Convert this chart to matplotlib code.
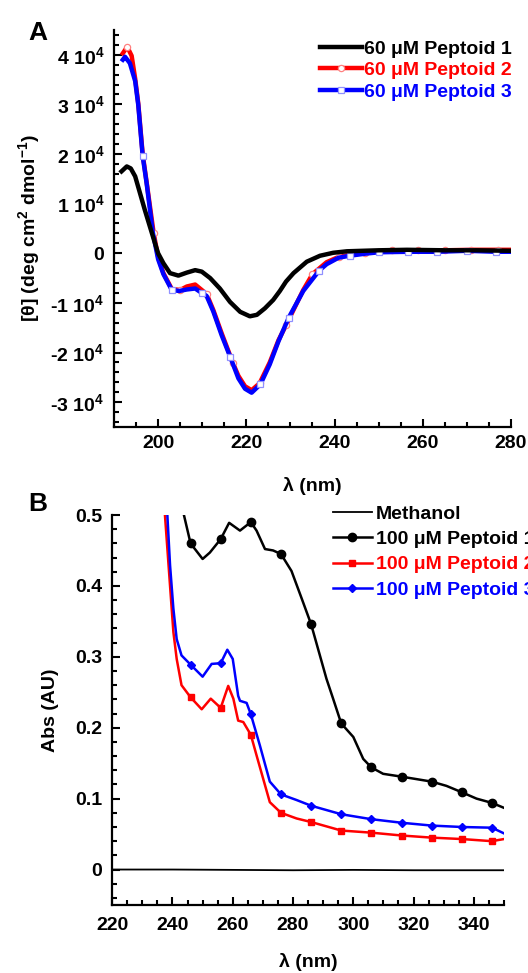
import numpy as np
import matplotlib
matplotlib.use("Agg")
import matplotlib.pyplot as plt
from matplotlib.ticker import FixedLocator, MultipleLocator

plt.rcParams['font.family'] = ['Liberation Sans', 'DejaVu Sans']
plt.rcParams['font.weight'] = 'bold'
plt.rcParams['axes.labelweight'] = 'bold'
plt.rcParams['mathtext.default'] = 'regular'

# ---------------- panel A : CD spectra (values in 1e4 deg cm2 dmol-1) ----------------
cd_labels = ['60 \u03bcM Peptoid 1', '60 \u03bcM Peptoid 2', '60 \u03bcM Peptoid 3']

cd1_wl = [191.7, 192.9, 193.8, 194.8, 195.9, 197.0, 198.2, 199.3, 200.0, 201.2, 202.7, 204.6,
          206.5, 208.4, 209.9, 211.8, 214.0, 216.3, 218.6, 220.8, 222.4, 224.2, 226.1, 227.6,
          229.0, 230.7, 233.7, 236.7, 239.7, 242.8, 250.0, 256.4, 265.0, 272.0, 280.0]
cd1_val = [1.65, 1.75, 1.71, 1.55, 1.21, 0.87, 0.52, 0.20, 0.00, -0.20, -0.40, -0.45,
           -0.39, -0.34, -0.37, -0.50, -0.71, -0.98, -1.18, -1.27, -1.24, -1.11, -0.94, -0.76,
           -0.57, -0.40, -0.17, -0.05, 0.01, 0.04, 0.06, 0.07, 0.06, 0.06, 0.05]

cd2_wl = [192.0, 193.0, 194.0, 194.8, 195.5, 196.5, 197.4, 199.0, 200.0, 201.2, 203.1, 205.0,
          206.5, 208.4, 211.0, 212.5, 214.4, 217.0, 218.2, 219.7, 221.2, 223.0, 225.3, 227.3,
          229.0, 232.9, 235.0, 238.2, 241.0, 244.0, 247.0, 250.0, 253.0, 259.0, 265.0, 271.0,
          277.0, 280.0]
cd2_val = [4.03, 4.16, 3.98, 3.52, 3.02, 2.00, 1.43, 0.40, -0.07, -0.40, -0.72, -0.74,
           -0.67, -0.63, -0.82, -1.14, -1.61, -2.22, -2.47, -2.68, -2.76, -2.62, -2.20, -1.75,
           -1.45, -0.74, -0.42, -0.18, -0.07, -0.02, 0.00, 0.04, 0.06, 0.06, 0.06, 0.07,
           0.07, 0.07]
cd2_marks = [193.0, 199.0, 205.0, 211.0, 217.0, 223.0, 229.0, 235.0, 241.0, 247.0, 253.0,
             259.0, 265.0, 271.0, 277.0]

cd3_wl = [192.0, 192.5, 193.6, 194.8, 195.5, 196.5, 197.4, 198.8, 200.0, 201.2, 203.1, 204.8,
          206.5, 208.4, 209.9, 211.0, 212.5, 214.4, 216.4, 218.2, 219.7, 221.2, 223.2, 225.3,
          227.3, 229.6, 232.9, 236.5, 238.2, 240.9, 243.4, 246.8, 250.0, 256.7, 263.3, 270.0,
          276.6, 280.0]
cd3_val = [3.90, 3.96, 3.83, 3.47, 2.99, 1.96, 1.41, 0.42, -0.12, -0.42, -0.74, -0.76,
           -0.73, -0.71, -0.80, -0.86, -1.17, -1.65, -2.10, -2.52, -2.73, -2.81, -2.64, -2.24,
           -1.77, -1.30, -0.76, -0.35, -0.22, -0.09, -0.05, -0.01, 0.02, 0.03, 0.03, 0.05,
           0.03, 0.03]
cd3_marks = [196.5, 203.1, 209.9, 216.4, 223.2, 229.6, 236.5, 243.4, 250.0, 256.7, 263.3,
             270.0, 276.6]

cd_yticks = [-3, -2, -1, 0, 1, 2, 3, 4]
cd_xticks = [200, 220, 240, 260, 280]

# ---------------- panel B : UV absorbance ----------------
uv_labels = ['Methanol', '100 \u03bcM Peptoid 1', '100 \u03bcM Peptoid 2', '100 \u03bcM Peptoid 3']

meoh_wl = [220, 240, 260, 280, 300, 320, 340, 350]
meoh_abs = [0.0, 0.0, -0.0005, -0.001, -0.0005, -0.001, -0.001, -0.001]

uv1_wl = [243.8, 246.0, 250.0, 252.4, 256.0, 258.8, 262.4, 266.0, 267.9, 270.7, 273.4, 276.0,
          279.5, 282.9, 286.0, 291.1, 293.3, 296.0, 300.0, 303.3, 306.0, 309.9, 316.0, 326.0,
          330.9, 336.0, 340.9, 346.0, 350.0]
uv1_abs = [0.500, 0.460, 0.438, 0.447, 0.466, 0.489, 0.478, 0.490, 0.478, 0.452, 0.450, 0.445,
           0.421, 0.382, 0.346, 0.269, 0.241, 0.206, 0.187, 0.156, 0.144, 0.135, 0.131, 0.124,
           0.118, 0.109, 0.100, 0.094, 0.087]

uv2_wl = [237.5, 239.5, 240.3, 241.4, 243.0, 246.0, 249.7, 252.7, 256.0, 258.5, 260.2, 261.8,
          263.5, 266.0, 267.9, 270.1, 272.3, 276.0, 281.2, 286.0, 296.0, 306.0, 316.0, 326.0,
          336.0, 346.0, 350.0]
uv2_abs = [0.500, 0.382, 0.335, 0.297, 0.260, 0.243, 0.226, 0.241, 0.228, 0.259, 0.241, 0.210,
           0.208, 0.190, 0.161, 0.128, 0.095, 0.080, 0.072, 0.067, 0.055, 0.052, 0.048, 0.045,
           0.043, 0.040, 0.043]

uv3_wl = [238.3, 239.2, 240.3, 241.4, 243.0, 246.0, 250.0, 253.0, 256.0, 258.2, 260.0, 261.8,
          262.4, 264.6, 266.0, 269.0, 272.3, 276.0, 281.2, 286.0, 296.0, 306.0, 316.0, 326.0,
          336.0, 346.0, 350.0]
uv3_abs = [0.500, 0.429, 0.368, 0.325, 0.302, 0.289, 0.272, 0.290, 0.291, 0.310, 0.297, 0.245,
           0.238, 0.235, 0.219, 0.175, 0.124, 0.106, 0.098, 0.090, 0.078, 0.071, 0.066, 0.062,
           0.060, 0.059, 0.051]

uv_marks = [246.0, 256.0, 266.0, 276.0, 286.0, 296.0, 306.0, 316.0, 326.0, 336.0, 346.0]
uv_yticks = [0, 0.1, 0.2, 0.3, 0.4, 0.5]
uv_xticks = [220, 240, 260, 280, 300, 320, 340]


def mark_idx(wl, marks):
    return [i for i, w in enumerate(wl) if w in marks]


def style_axes(ax, pad_x):
    for side in ['top', 'right']:
        ax.spines[side].set_visible(False)
    for side in ['left', 'bottom']:
        ax.spines[side].set_linewidth(1.6)
    ax.tick_params(which='both', direction='in', width=1.5, labelsize=14)
    ax.tick_params(which='major', length=6)
    ax.tick_params(which='minor', length=3.5)
    ax.tick_params(axis='x', pad=pad_x)
    ax.tick_params(axis='y', pad=7)


fig = plt.figure(figsize=(5.28, 9.73), dpi=100)

# ---- A ----
axA = fig.add_axes([0.2159, 0.5612, 0.7519, 0.408])
lw = 3.2
axA.plot(cd1_wl, np.array(cd1_val) * 1e4, color='black', lw=lw, zorder=4, label=cd_labels[0])
axA.plot(cd2_wl, np.array(cd2_val) * 1e4, color='#ff0000', lw=lw, zorder=2,
         marker='o', ms=4.5, mfc='white', mec='#ff8080', mew=0.9,
         markevery=mark_idx(cd2_wl, cd2_marks), label=cd_labels[1])
axA.plot(cd3_wl, np.array(cd3_val) * 1e4, color='#0000ff', lw=lw, zorder=3,
         marker='s', ms=4.5, mfc='white', mec='#9090ff', mew=0.9,
         markevery=mark_idx(cd3_wl, cd3_marks), label=cd_labels[2])
axA.set_xlim(190, 280)
axA.set_ylim(-3.5e4, 4.5e4)
axA.xaxis.set_major_locator(FixedLocator(cd_xticks))
axA.xaxis.set_minor_locator(MultipleLocator(5))
axA.yaxis.set_major_locator(FixedLocator([k * 1e4 for k in cd_yticks]))
axA.yaxis.set_minor_locator(MultipleLocator(2000))
axA.set_yticklabels(['0' if k == 0 else f'{k} 10$^4$' for k in cd_yticks])
style_axes(axA, 6)
axA.set_xlabel('\u03bb (nm)', fontsize=14, fontweight='bold', labelpad=18)
axA.set_ylabel('[\u03b8] (deg cm$^2$ dmol$^{-1}$)', fontsize=14, fontweight='bold', labelpad=6)
legA = axA.legend(loc='upper left', bbox_to_anchor=(320 / 528, 1 - 40 / 973),
                  bbox_transform=fig.transFigure, frameon=False, fontsize=14,
                  handlelength=2.15, handletextpad=0.1, labelspacing=0.2, borderpad=0,
                  borderaxespad=0, numpoints=1)
for txt, c in zip(legA.get_texts(), ['black', '#ff0000', '#0000ff']):
    txt.set_color(c)
fig.text(38 / 528, 1 - 33 / 973, 'A', fontsize=19, fontweight='bold', ha='center', va='center')

# ---- B ----
axB = fig.add_axes([0.2125, 0.0699, 0.7420, 0.4008])
axB.plot(meoh_wl, meoh_abs, color='black', lw=1.3, label=uv_labels[0])
axB.plot(uv1_wl, uv1_abs, color='black', lw=1.8, marker='o', ms=6,
         markevery=mark_idx(uv1_wl, uv_marks), label=uv_labels[1])
axB.plot(uv2_wl, uv2_abs, color='#ff0000', lw=1.8, marker='s', ms=5,
         markevery=mark_idx(uv2_wl, uv_marks), label=uv_labels[2])
axB.plot(uv3_wl, uv3_abs, color='#0000ff', lw=1.8, marker='D', ms=4.5,
         markevery=mark_idx(uv3_wl, uv_marks), label=uv_labels[3])
axB.set_xlim(220, 350)
axB.set_ylim(-0.05, 0.5)
axB.xaxis.set_major_locator(FixedLocator(uv_xticks))
axB.xaxis.set_minor_locator(MultipleLocator(5))
axB.yaxis.set_major_locator(FixedLocator(uv_yticks))
axB.yaxis.set_minor_locator(MultipleLocator(0.02))
axB.set_yticklabels(['0' if v == 0 else f'{v:.1f}' for v in uv_yticks])
style_axes(axB, 9)
axB.set_xlabel('\u03bb (nm)', fontsize=14, fontweight='bold', labelpad=13)
axB.set_ylabel('Abs (AU)', fontsize=14, fontweight='bold', labelpad=12)
legB = axB.legend(loc='upper left', bbox_to_anchor=(333 / 528, 1 - 505 / 973),
                  bbox_transform=fig.transFigure, frameon=False, fontsize=14,
                  handlelength=2.0, handletextpad=0.2, labelspacing=0.4, borderpad=0,
                  borderaxespad=0, numpoints=1)
for txt, c in zip(legB.get_texts(), ['black', 'black', '#ff0000', '#0000ff']):
    txt.set_color(c)
fig.text(38 / 528, 1 - 504 / 973, 'B', fontsize=19, fontweight='bold', ha='center', va='center')

fig.savefig('out.png', dpi=100)
